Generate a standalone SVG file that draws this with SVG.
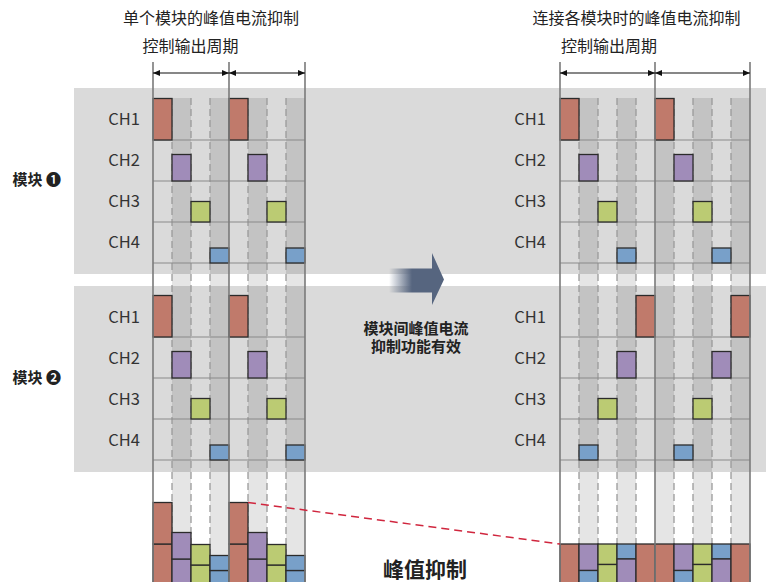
<svg xmlns="http://www.w3.org/2000/svg" width="766" height="582" viewBox="0 0 766 582">
<defs>
<style>
text{font-family:"Noto Sans CJK SC","Noto Sans",sans-serif;}
.band{fill:#dadada}
.shade{fill:#000;fill-opacity:0.1}
.vline{stroke:#7b7b7b;stroke-width:1.6;fill:none}
.dash{stroke:#9a9a9a;stroke-width:1.3;stroke-dasharray:7 4;fill:none}
.row{stroke:#8a8a8a;stroke-width:1.2;fill:none}
.box{stroke:#2b2b2b;stroke-width:1.3}
.r{fill:#c07a6b}.p{fill:#a08cb9}.g{fill:#bbcb73}.b{fill:#78a0c9}
.ch{font-size:16.5px;fill:#333;text-anchor:end}
.title{font-size:16px;fill:#222;text-anchor:middle}
.mod{font-size:15px;font-weight:bold;fill:#222}
.mid{font-size:15px;font-weight:bold;fill:#222;text-anchor:middle}
.dim{stroke:#111;stroke-width:1.1;fill:none}
</style>
<marker id="ah" viewBox="0 0 7 6" refX="7" refY="3" markerWidth="7" markerHeight="6" markerUnits="userSpaceOnUse" orient="auto-start-reverse">
<path d="M0,0 L7,3 L0,6 z" fill="#111"/>
</marker>
<linearGradient id="ag" gradientUnits="userSpaceOnUse" x1="389" y1="0" x2="412" y2="0">
<stop offset="0" stop-color="#56657f" stop-opacity="0"/>
<stop offset="1" stop-color="#56657f" stop-opacity="1"/>
</linearGradient>
</defs>
<rect width="766" height="582" fill="#fff"/>
<g id="bands">
<rect class="band" x="74" y="88" width="692" height="186"/>
<rect class="band" x="74" y="286" width="692" height="186"/>
</g>
<g id="titles">
<text class="title" x="211" y="23.5">单个模块的峰值电流抑制</text>
<text class="title" x="190.5" y="52">控制输出周期</text>
<text class="title" x="636.5" y="23.5">连接各模块时的峰值电流抑制</text>
<text class="title" x="609" y="52">控制输出周期</text>
</g>
<g id="module1-label"><text class="mod" x="12.5" y="185">模块 ❶</text></g>
<g id="module2-label"><text class="mod" x="12.5" y="383">模块 ❷</text></g>
<g id="left-panel">
<g id="left-shading">
<rect class="shade" x="172" y="98" width="19" height="484"/>
<rect class="shade" x="210" y="98" width="19" height="484"/>
<rect class="shade" x="248" y="98" width="19" height="484"/>
<rect class="shade" x="286" y="98" width="19" height="484"/>
</g>
<path class="dash" d="M172,98V582M191,98V582M210,98V582M248,98V582M267,98V582M286,98V582"/>
<path class="row" d="M153,140H305M153,181H305M153,222H305M153,263H305M153,337H305M153,378H305M153,419H305M153,460H305"/>
<g id="left-labels">
<text class="ch" x="140" y="125">CH1</text>
<text class="ch" x="140" y="166">CH2</text>
<text class="ch" x="140" y="207">CH3</text>
<text class="ch" x="140" y="248">CH4</text>
<text class="ch" x="140" y="323">CH1</text>
<text class="ch" x="140" y="364">CH2</text>
<text class="ch" x="140" y="405">CH3</text>
<text class="ch" x="140" y="446">CH4</text>
</g>
<g id="left-m1-boxes">
<rect class="box r" x="153" y="98.5" width="19" height="41.5"/>
<rect class="box r" x="229" y="98.5" width="19" height="41.5"/>
<rect class="box p" x="172" y="154.5" width="19" height="26.5"/>
<rect class="box p" x="248" y="154.5" width="19" height="26.5"/>
<rect class="box g" x="191" y="201.5" width="19" height="20.5"/>
<rect class="box g" x="267" y="201.5" width="19" height="20.5"/>
<rect class="box b" x="210" y="248" width="19" height="15"/>
<rect class="box b" x="286" y="248" width="19" height="15"/>
</g>
<g id="left-m2-boxes">
<rect class="box r" x="153" y="295.5" width="19" height="41.5"/>
<rect class="box r" x="229" y="295.5" width="19" height="41.5"/>
<rect class="box p" x="172" y="351.5" width="19" height="26.5"/>
<rect class="box p" x="248" y="351.5" width="19" height="26.5"/>
<rect class="box g" x="191" y="398.5" width="19" height="20.5"/>
<rect class="box g" x="267" y="398.5" width="19" height="20.5"/>
<rect class="box b" x="210" y="445" width="19" height="15"/>
<rect class="box b" x="286" y="445" width="19" height="15"/>
</g>
<g id="left-stack">
<rect class="box r" x="153" y="544" width="19" height="41.5"/>
<rect class="box r" x="153" y="502.5" width="19" height="41.5"/>
<rect class="box p" x="172" y="559" width="19" height="26.5"/>
<rect class="box p" x="172" y="532.5" width="19" height="26.5"/>
<rect class="box g" x="191" y="565" width="19" height="20.5"/>
<rect class="box g" x="191" y="544.5" width="19" height="20.5"/>
<rect class="box b" x="210" y="570.5" width="19" height="15"/>
<rect class="box b" x="210" y="555.5" width="19" height="15"/>
<rect class="box r" x="229" y="544" width="19" height="41.5"/>
<rect class="box r" x="229" y="502.5" width="19" height="41.5"/>
<rect class="box p" x="248" y="559" width="19" height="26.5"/>
<rect class="box p" x="248" y="532.5" width="19" height="26.5"/>
<rect class="box g" x="267" y="565" width="19" height="20.5"/>
<rect class="box g" x="267" y="544.5" width="19" height="20.5"/>
<rect class="box b" x="286" y="570.5" width="19" height="15"/>
<rect class="box b" x="286" y="555.5" width="19" height="15"/>
</g>
<path class="vline" d="M153,62V582M229,62V582M305,62V582"/>
</g>
<g id="right-panel">
<g id="right-shading">
<rect class="shade" x="579" y="98" width="19" height="484"/>
<rect class="shade" x="617" y="98" width="19" height="484"/>
<rect class="shade" x="655" y="98" width="19" height="484"/>
<rect class="shade" x="693" y="98" width="19" height="484"/>
<rect class="shade" x="731" y="98" width="19" height="484"/>
</g>
<path class="dash" d="M579,98V582M598,98V582M617,98V582M636,98V582M674,98V582M693,98V582M712,98V582M731,98V582"/>
<path class="row" d="M560,140H750M560,181H750M560,222H750M560,263H750M560,337H750M560,378H750M560,419H750M560,460H750"/>
<g id="right-labels">
<text class="ch" x="546" y="125">CH1</text>
<text class="ch" x="546" y="166">CH2</text>
<text class="ch" x="546" y="207">CH3</text>
<text class="ch" x="546" y="248">CH4</text>
<text class="ch" x="546" y="323">CH1</text>
<text class="ch" x="546" y="364">CH2</text>
<text class="ch" x="546" y="405">CH3</text>
<text class="ch" x="546" y="446">CH4</text>
</g>
<g id="right-m1-boxes">
<rect class="box r" x="560" y="98.5" width="19" height="41.5"/>
<rect class="box r" x="655" y="98.5" width="19" height="41.5"/>
<rect class="box p" x="579" y="154.5" width="19" height="26.5"/>
<rect class="box p" x="674" y="154.5" width="19" height="26.5"/>
<rect class="box g" x="598" y="201.5" width="19" height="20.5"/>
<rect class="box g" x="693" y="201.5" width="19" height="20.5"/>
<rect class="box b" x="617" y="248" width="19" height="15"/>
<rect class="box b" x="712" y="248" width="19" height="15"/>
</g>
<g id="right-m2-boxes">
<rect class="box r" x="636" y="295.5" width="19" height="41.5"/>
<rect class="box r" x="731" y="295.5" width="19" height="41.5"/>
<rect class="box p" x="617" y="351.5" width="19" height="26.5"/>
<rect class="box p" x="712" y="351.5" width="19" height="26.5"/>
<rect class="box g" x="598" y="398.5" width="19" height="20.5"/>
<rect class="box g" x="693" y="398.5" width="19" height="20.5"/>
<rect class="box b" x="579" y="445" width="19" height="15"/>
<rect class="box b" x="674" y="445" width="19" height="15"/>
</g>
<g id="right-stack">
<rect class="box r" x="560" y="544" width="19" height="41.5"/>
<rect class="box p" x="579" y="544" width="19" height="26.5"/>
<rect class="box b" x="579" y="570.5" width="19" height="15"/>
<rect class="box g" x="598" y="544" width="19" height="20.5"/>
<rect class="box g" x="598" y="564.5" width="19" height="21"/>
<rect class="box b" x="617" y="544" width="19" height="15"/>
<rect class="box p" x="617" y="559" width="19" height="26.5"/>
<rect class="box r" x="636" y="544" width="19" height="41.5"/>
<rect class="box r" x="655" y="544" width="19" height="41.5"/>
<rect class="box p" x="674" y="544" width="19" height="26.5"/>
<rect class="box b" x="674" y="570.5" width="19" height="15"/>
<rect class="box g" x="693" y="544" width="19" height="20.5"/>
<rect class="box g" x="693" y="564.5" width="19" height="21"/>
<rect class="box b" x="712" y="544" width="19" height="15"/>
<rect class="box p" x="712" y="559" width="19" height="26.5"/>
<rect class="box r" x="731" y="544" width="19" height="41.5"/>
</g>
<path class="vline" d="M560,62V582M655,62V582M750,62V582"/>
</g>
<g id="connectors">
<line class="dim" x1="153" y1="73" x2="229" y2="73" marker-start="url(#ah)" marker-end="url(#ah)"/>
<line class="dim" x1="229" y1="73" x2="305" y2="73" marker-start="url(#ah)" marker-end="url(#ah)"/>
<line class="dim" x1="560" y1="73" x2="655" y2="73" marker-start="url(#ah)" marker-end="url(#ah)"/>
<line class="dim" x1="655" y1="73" x2="750" y2="73" marker-start="url(#ah)" marker-end="url(#ah)"/>
<path d="M388,268.5H432V253L444,279.5L432,305V292.5H388z" fill="url(#ag)"/>
<line x1="248" y1="502.5" x2="560" y2="544" stroke="#d0263e" stroke-width="1.5" stroke-dasharray="8 5"/>
</g>
<g id="middle-label">
<text class="mid" x="416" y="334"><tspan x="416" y="334">模块间峰值电流</tspan><tspan x="416" y="352">抑制功能有效</tspan></text>
</g>
<g id="peak-label">
<text x="425" y="576.5" font-size="21" font-weight="bold" fill="#222" text-anchor="middle">峰值抑制</text>
</g>
</svg>
